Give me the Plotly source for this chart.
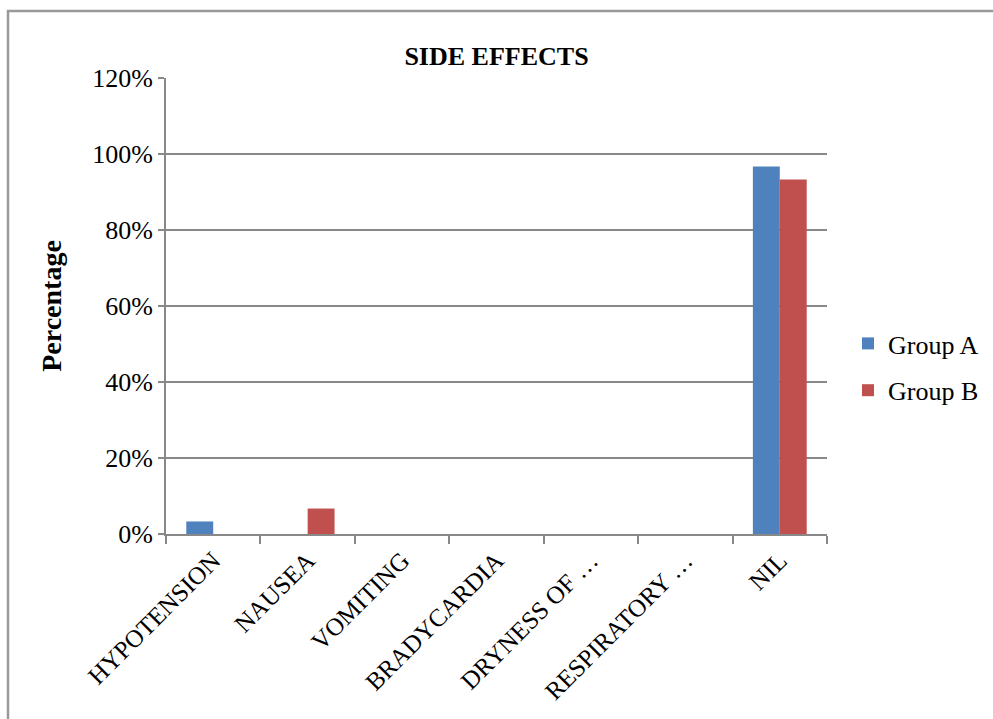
import plotly.graph_objects as go

categories = ["HYPOTENSION", "NAUSEA", "VOMITING", "BRADYCARDIA", "DRYNESS OF …", "RESPIRATORY …", "NIL"]
group_a = [0.033, 0.0, 0.0, 0.0, 0.0, 0.0, 0.967]
group_b = [0.0, 0.067, 0.0, 0.0, 0.0, 0.0, 0.933]
y_ticks = [0, 0.2, 0.4, 0.6, 0.8, 1.0, 1.2]
y_tick_labels = ["0%", "20%", "40%", "60%", "80%", "100%", "120%"]

W, H = 993, 719
L, R, T, B = 166, 166, 78, 185
pw, ph = W - L - R, H - T - B

fig = go.Figure()
fig.add_trace(go.Bar(name="Group A", x=categories, y=group_a, marker_color="#4F81BD",
                     marker_line_width=0, legendgroup="a"))
fig.add_trace(go.Bar(name="Group B", x=categories, y=group_b, marker_color="#C0504D",
                     marker_line_width=0, legendgroup="b"))

serif = "Liberation Serif, DejaVu Serif, serif"
fig.update_layout(
    width=W, height=H,
    margin=dict(l=L, r=R, t=T, b=B, autoexpand=False),
    paper_bgcolor="white", plot_bgcolor="white",
    barmode="group", bargap=0.43, bargroupgap=0,
    font=dict(family=serif, size=25, color="black"),
    title=dict(text="<b>SIDE EFFECTS</b>", x=0.5, xanchor="center", y=1 - 56 / H, yanchor="middle",
               font=dict(family=serif, size=26, color="black")),
    legend=dict(x=(848 - L) / pw, xanchor="left", y=(534 - 367) / ph, yanchor="middle",
                font=dict(family=serif, size=26), traceorder="grouped", tracegroupgap=10,
                itemwidth=30),
    xaxis=dict(showgrid=False, showline=True, linecolor="#888888", linewidth=2,
               ticks="outside", tickson="boundaries", ticklen=8, tickcolor="#888888", tickwidth=2,
               tickangle=-45, tickfont=dict(family=serif, size=25)),
    yaxis=dict(range=[0, 1.2], tickvals=y_ticks, ticktext=y_tick_labels,
               showgrid=True, gridcolor="#888888", gridwidth=2,
               showline=True, linecolor="#888888", linewidth=2,
               ticks="outside", ticklen=6, tickcolor="#888888", tickwidth=2,
               zeroline=False,
               title=dict(text="<b>Percentage</b>", font=dict(family=serif, size=28), standoff=22),
               tickfont=dict(family=serif, size=26)),
)

# outer chart frame (extends beyond the visible area on right and bottom)
fig.add_shape(type="rect", xref="paper", yref="paper",
              x0=(8 - L) / pw, x1=(W + 20 - L) / pw,
              y0=(H - B - (H + 20)) / ph,
              y1=(H - B - 11) / ph,
              line=dict(color="#999999", width=2.5), fillcolor="rgba(0,0,0,0)", layer="below")

fig.write_html("out.html", config={"displayModeBar": False, "staticPlot": True},
               post_script="document.body.style.margin='0';")
